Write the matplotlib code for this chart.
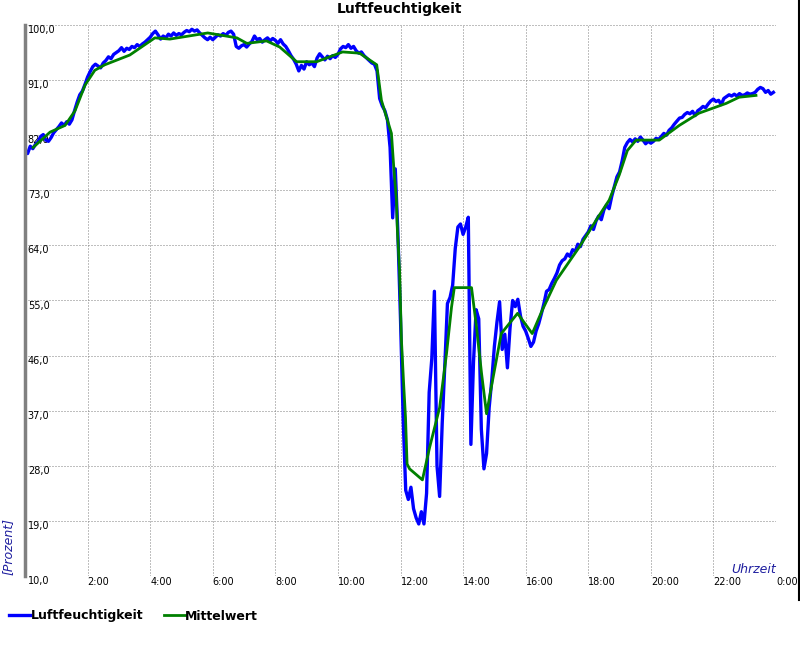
import matplotlib
matplotlib.use('Agg')
import matplotlib.pyplot as plt
import numpy as np
from matplotlib.lines import Line2D

# Luftfeuchtigkeit, 5-Minuten-Werte (eine Zeile pro Stunde)
humidity = [
    79.5, 79.0, 80.2, 79.8, 80.5, 80.9, 81.8, 82.1, 81.2, 81.0, 81.6, 82.4,
    82.9, 83.4, 84.0, 83.6, 84.2, 83.8, 84.5, 86.0, 87.4, 88.6, 89.2, 90.3,
    91.5, 92.4, 93.2, 93.6, 93.3, 93.0, 93.8, 94.2, 94.8, 94.5, 95.2, 95.5,
    95.8, 96.3, 95.7, 96.2, 96.0, 96.5, 96.3, 96.8, 96.5, 96.9, 97.2, 97.6,
    98.0, 98.6, 99.0, 98.4, 97.7, 98.2, 97.9, 98.5, 98.2, 98.7, 98.3, 98.6,
    98.4, 98.8, 99.1, 98.9, 99.3, 99.0, 99.2, 98.7, 98.3, 97.9, 97.6, 98.0,
    97.6, 98.0, 98.4, 98.2, 98.6, 98.3, 98.8, 99.0, 98.5, 96.5, 96.2, 96.6,
    96.8, 96.4, 96.9, 97.3, 98.2, 97.6, 97.8, 97.2, 97.6, 97.9, 97.4, 97.8,
    97.5, 97.0, 97.6, 96.9, 96.5, 95.8, 95.0, 94.4, 93.6, 92.5, 93.4, 92.8,
    94.0, 93.5, 93.8, 93.2, 94.6, 95.3, 94.8, 94.3, 94.9, 94.5, 95.0, 94.7,
    95.2, 96.1, 96.5, 96.3, 96.8, 96.2, 96.5, 95.8, 95.4, 95.6, 95.0, 94.6,
    94.2, 93.8, 93.6, 92.5, 88.0, 86.8, 86.0, 84.5, 80.0, 68.5, 76.5, 66.0,
    52.0, 36.0, 24.0, 22.5, 24.5, 21.0, 19.5, 18.5, 20.5, 18.5, 23.5, 40.0,
    45.5, 56.5, 28.0, 23.0, 35.0, 44.5, 54.5, 55.5, 57.5, 63.5, 67.0, 67.5,
    65.8, 67.0, 68.6, 31.5, 45.0, 53.5, 52.0, 34.0, 27.5, 30.0, 37.5, 42.0,
    47.5, 51.5, 54.8, 47.0, 49.5, 44.0, 50.5, 55.0, 54.0, 55.2, 52.5, 50.8,
    50.0, 48.8, 47.5, 48.2, 50.0, 51.2, 52.8, 54.5, 56.5, 56.8, 57.8, 58.6,
    59.5, 60.8, 61.5, 61.8, 62.6, 62.2, 63.3, 63.0, 64.2, 63.8, 65.0, 65.6,
    66.2, 67.2, 66.6, 68.0, 68.8, 68.2, 69.8, 70.6, 70.0, 72.0, 73.6, 75.2,
    76.0, 77.8, 80.0, 80.8, 81.3, 80.9, 81.4, 81.0, 81.7, 81.2, 80.6, 81.0,
    80.7, 81.0, 81.5, 81.3, 81.8, 82.3, 82.0, 82.8, 83.2, 83.8, 84.3, 84.8,
    84.9, 85.4, 85.7, 85.5, 85.9, 85.2, 86.0, 86.3, 86.7, 86.5, 87.1, 87.6,
    87.9, 87.5, 87.7, 87.0, 88.0, 88.3, 88.6, 88.4, 88.7, 88.4, 88.8, 88.5,
    88.6, 88.9, 88.7, 88.8, 89.0, 89.5, 89.8, 89.6, 89.0, 89.3, 88.7, 89.0,
]
humidity_hours = np.arange(len(humidity)) * 5 / 60.0

# Mittelwert (Stunde, Wert)
mean_hours = [0.26, 0.80, 1.28, 1.60, 1.92, 2.23, 2.55, 3.35, 4.15, 4.63,
              5.84, 6.77, 7.09, 7.72, 8.14, 8.68, 9.32, 10.15, 10.69, 11.01,
              11.24, 11.39, 11.71, 11.78, 11.87, 11.90, 11.97, 12.03, 12.10,
              12.16, 12.21, 12.29, 12.70, 12.93, 13.25, 13.47, 13.63, 13.72,
              14.27, 14.43, 14.59, 14.75, 14.94, 15.22, 15.74, 16.21, 16.53,
              16.98, 17.71, 18.35, 18.67, 18.99, 19.25, 19.53, 20.27, 20.91,
              21.54, 22.41, 22.82, 23.36]
mean_values = [80.0, 82.5, 83.6, 86.0, 90.2, 92.6, 93.5, 95.1, 97.9, 97.7,
               98.7, 97.9, 97.0, 97.4, 96.4, 94.0, 94.0, 95.6, 95.4, 94.3,
               93.5, 87.7, 82.3, 77.1, 71.4, 66.5, 59.9, 48.5, 41.4,
               35.9, 28.3, 27.5, 25.7, 31.0, 37.5, 46.3, 53.9, 57.1,
               57.1, 50.6, 43.1, 36.5, 41.9, 49.6, 52.9, 49.6, 53.4,
               58.3, 63.7, 68.9, 71.4, 75.5, 79.5, 81.2, 81.2, 83.6,
               85.6, 87.2, 88.2, 88.5]

y_ticks = [10, 19, 28, 37, 46, 55, 64, 73, 82, 91, 100]
y_labels = ['%.1f' % v for v in y_ticks]
y_labels = [s.replace('.', ',') for s in y_labels]
x_ticks = list(range(0, 25, 2))
x_labels = [''] + ['%d:00' % h for h in range(2, 24, 2)] + ['0:00']

label_color = '#2020a0'

fig = plt.figure(figsize=(8, 6.5), dpi=100)
ax = fig.add_axes([25 / 800, 74 / 650, 751 / 800, 551 / 650])

ax.plot(humidity_hours, humidity, color='#0000ff', lw=2.4, label='Luftfeuchtigkeit')
ax.plot(mean_hours, mean_values, color='#008000', lw=2, label='Mittelwert')

ax.set_xlim(0, 24)
ax.set_ylim(10, 100)
ax.set_yticks(y_ticks)
ax.set_yticklabels(y_labels)
ax.set_xticks(x_ticks)
ax.set_xticklabels(x_labels)
ax.minorticks_off()
# 1 px Punkt, 2 px Luecke
ax.grid(True, which='major', color='#808080', linestyle=(0, (1, 2)), linewidth=0.72)

for s in ['top', 'right', 'bottom']:
    ax.spines[s].set_visible(False)
ax.spines['left'].set_color('#808080')
ax.spines['left'].set_linewidth(2.5)

ax.tick_params(axis='y', length=0, pad=-2, labelsize=7)
ax.tick_params(axis='x', length=0, pad=1, labelsize=7)
for lab in ax.get_yticklabels():
    lab.set_ha('left')
    lab.set_va('top')
for lab in ax.get_xticklabels():
    lab.set_ha('left')

ax.annotate('Uhrzeit', xy=(24, 10), xytext=(0, 3), textcoords='offset pixels',
            ha='right', va='baseline', style='italic', fontsize=9, color=label_color)
fig.text(8 / 800, 75 / 650, '[Prozent]', rotation=90, ha='center', va='bottom',
         style='italic', fontsize=9, color=label_color)

fig.text(0.5, 1 - 12.5 / 650, 'Luftfeuchtigkeit', ha='center', va='baseline',
         fontsize=10, fontweight='bold')

# schwarze Linie am rechten Rand
fig.add_artist(Line2D([798.5 / 800, 798.5 / 800], [1, 1 - 600 / 650],
                      color='black', lw=1.5, transform=fig.transFigure))

fig.legend(loc='center left', bbox_to_anchor=(9 / 800, 1 - 616 / 650), ncol=2,
           frameon=False, prop=dict(weight='bold', size=9), handlelength=1.7,
           handletextpad=0.05, columnspacing=1.6, borderpad=0, borderaxespad=0)

fig.savefig('out.png', dpi=100)
